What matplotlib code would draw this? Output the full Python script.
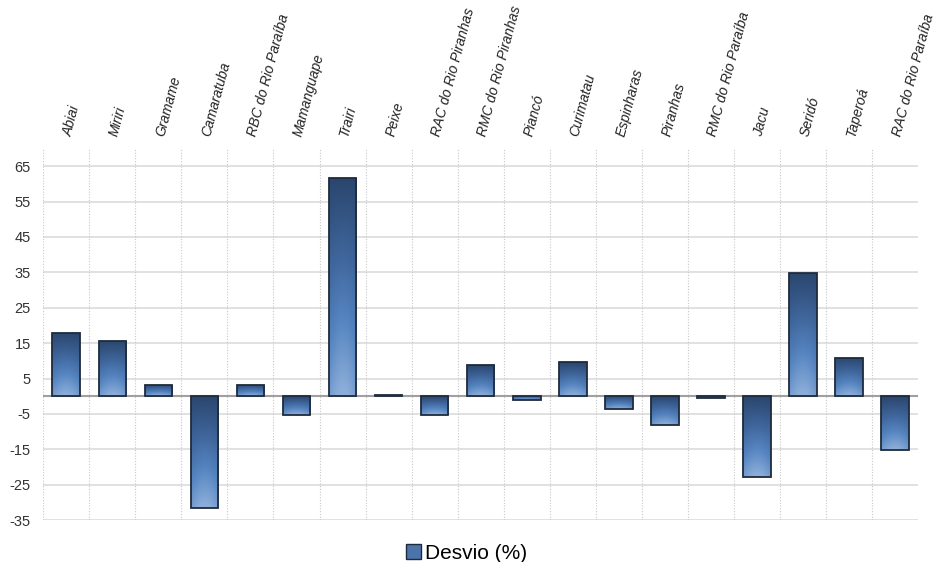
import numpy as np
import matplotlib
matplotlib.use("Agg")
import matplotlib.pyplot as plt
from matplotlib.patches import Patch
from matplotlib.colors import LinearSegmentedColormap
import matplotlib.transforms as mtransforms

plt.rcParams['font.family'] = ['Liberation Sans', 'DejaVu Sans']

# data
bacias = ["Abiai", "Miriri", "Gramame", "Camaratuba", "RBC do Rio Paraíba",
          "Mamanguape", "Trairi", "Peixe", "RAC do Rio Piranhas",
          "RMC do Rio Piranhas", "Piancó", "Curimatau", "Espinharas",
          "Piranhas", "RMC do Rio Paraíba", "Jacu", "Seridó", "Taperoá",
          "RAC do Rio Paraíba"]
desvio = [18.0, 15.6, 3.2, -31.7, 3.3, -5.2, 61.7, 0.4, -5.3,
          8.7, -1.2, 9.6, -3.7, -8.1, -0.4, -22.8, 34.8, 10.8, -15.2]
yticks = list(range(-35, 66, 10))
serie = "Desvio (%)"

fig = plt.figure(figsize=(9.33, 5.62), dpi=100)
ax = fig.add_axes([0.0464, 0.0747, 0.9376, 0.661])

x = np.arange(len(bacias))
ax.set_xlim(-0.5, len(bacias) - 0.5)
ax.set_ylim(-35, 70)

# grid
for yv in yticks:
    ax.axhline(yv, color='#dcdcdc', lw=1.2, zorder=0)
for xv in np.arange(-0.5, len(bacias) - 0.5, 1.0):
    ax.axvline(xv, color='#c8c8c8', lw=0.8, ls=(0, (1, 1.5)), zorder=0)

bars = ax.bar(x, desvio, width=0.6, color='none', edgecolor='#1f2b3c',
              linewidth=1.3, zorder=3)

# gradient fill: dark at top, lighter blue at bottom, soft glow in the middle
cmap = LinearSegmentedColormap.from_list(
    'grad', ['#2a466d', '#3d6398', '#5584c0', '#8badd9'])
ny, nx = 100, 40
tv = np.linspace(0, 1, ny)[:, None]
th = np.linspace(0, 1, nx)[None, :]
t = np.clip(tv * (0.85 + 0.18 * np.sin(np.pi * th)), 0, 1)
for b in bars:
    x0 = b.get_x()
    w = b.get_width()
    y0 = b.get_y()
    h = b.get_height()
    top, bot = max(y0, y0 + h), min(y0, y0 + h)
    im = ax.imshow(t, cmap=cmap, vmin=0, vmax=1, extent=(x0, x0 + w, bot, top),
                   origin='upper', aspect='auto', zorder=2,
                   interpolation='bilinear')
    im.set_clip_path(b)

ax.axhline(0, color='#a0a0a0', lw=1.5, zorder=1)

ax.set_yticks(yticks)
ax.set_yticklabels([str(v) for v in yticks], fontsize=10.5, color='#333333')
ax.tick_params(axis='y', length=0, pad=9)
ax.set_xticks([])
for s in ax.spines.values():
    s.set_visible(False)

trans = mtransforms.blended_transform_factory(ax.transData, ax.transAxes)
for i, lab in enumerate(bacias):
    ax.text(i + 0.12, 1.03, lab, transform=trans, rotation=75,
            rotation_mode='anchor', ha='left', va='baseline',
            fontsize=10, color='#222222', style='italic')

handle = Patch(facecolor='#4b74ab', edgecolor='#1f2b3c', linewidth=1.0)
fig.legend([handle], [serie], loc='lower center', bbox_to_anchor=(0.5, -0.035),
           frameon=False, fontsize=15, handlelength=0.7, handleheight=0.7,
           handletextpad=0.2)

fig.savefig("out.png", dpi=100)
